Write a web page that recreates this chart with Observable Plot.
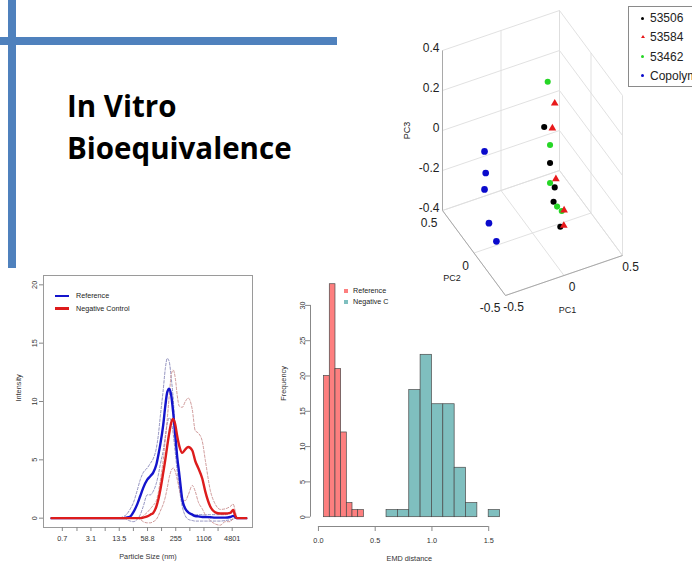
<!DOCTYPE html>
<html>
<head>
<meta charset="utf-8">
<script src="https://cdn.jsdelivr.net/npm/d3@7"></script>
<script src="https://cdn.jsdelivr.net/npm/@observablehq/plot@0.6"></script>
<style>
  html, body { margin:0; padding:0; background:#fff; }
  body { width:692px; height:565px; position:relative; overflow:hidden; font-family:"Liberation Sans", Arial, sans-serif; }
  .abs { position:absolute; }
  .bar { background:#4f81bd; }
  #title { left:67px; top:85px; font-family:"Open Sans", sans-serif; font-weight:700; font-size:29.5px; line-height:42px; color:#000; white-space:nowrap; }
  .row { position:absolute; left:0; white-space:nowrap; }
  .txt { position:absolute; color:#222; }
</style>
</head>
<body>
<div class="abs bar" style="left:8px;top:0;width:8px;height:268px"></div>
<div class="abs bar" style="left:0;top:37px;width:337px;height:8px"></div>
<div id="title" class="abs">In Vitro<br>Bioequivalence</div>
<div id="lineChart" class="abs" style="left:0;top:270px;width:260px;height:295px"></div>
<div id="lineLegend" class="abs" style="left:55px;top:291px;width:100px;height:26px"></div>
<div id="hist" class="abs" style="left:270px;top:270px;width:240px;height:295px"></div>
<div id="histLegend" class="abs" style="left:344px;top:286px;width:60px;height:24px"></div>
<div id="pca" class="abs" style="left:390px;top:0;width:302px;height:320px"></div>
<div id="pcaLegend" class="abs" style="left:628px;top:6px;width:80px;height:79px;border:1px solid #8a8a8a;background:#fff"></div>
<script>
// ================= DATA =================
// --- Particle size distribution (left bottom) ---
const sizes = [0.4, 11.6, 13.5, 15.8, 19.5, 24, 28, 34.5, 40.3, 47, 58, 68, 79, 93, 103, 114, 133, 148, 164, 182, 202, 224, 249, 276, 306, 358, 419, 489, 603, 703, 822, 1012, 1183, 1535, 1991, 2583, 3343, 4336, 5071, 5625, 6239, 7294, 9961];
const refMean  = [0, 0, 0, 0, 0.05, 0.15, 0.5, 1.2, 1.9, 2.6, 3.3, 3.6, 3.9, 4.6, 5.4, 6.3, 8.0, 9.6, 10.8, 11.1, 10.5, 9.0, 7.1, 5.2, 3.8, 1.6, 0.8, 0.5, 0.3, 0.18, 0.15, 0.1, 0.1, 0.08, 0.05, 0.05, 0.05, 0.1, 0.2, 0.1, 0, 0, 0];
const refUpper = [0, 0, 0, 0.1, 0.3, 0.8, 1.3, 2.4, 3.3, 3.9, 4.3, 4.7, 5.1, 6.0, 7.1, 8.7, 11.0, 12.8, 13.7, 13.4, 12.0, 10.2, 7.4, 5.2, 3.2, 1.8, 0.9, 0.5, 0.35, 0.3, 0.3, 0.3, 0.3, 0.3, 0.3, 0.3, 0.3, 0.4, 0.5, 0.2, 0, 0, 0];
const refLower = [0, 0, 0, 0, -0.1, -0.25, -0.3, -0.1, 0.3, 1.0, 2.0, 2.0, 2.3, 3.0, 3.7, 4.6, 5.8, 7.0, 8.1, 8.6, 8.3, 7.2, 5.6, 4.0, 2.6, 1.0, 0.2, -0.1, -0.2, -0.25, -0.25, -0.25, -0.25, -0.25, -0.25, -0.25, -0.2, -0.15, -0.1, 0, 0, 0, 0];
const negMean  = [0, 0, 0, 0, 0, 0, 0, 0, 0, 0.05, 0.15, 0.3, 0.45, 1.0, 1.6, 2.4, 3.9, 5.0, 6.2, 7.3, 8.2, 8.5, 8.0, 7.0, 6.2, 5.6, 5.9, 6.1, 5.8, 4.9, 4.3, 3.4, 2.3, 1.0, 0.5, 0.4, 0.4, 0.45, 0.7, 0.2, 0, 0, 0];
const negUpper = [0, 0, 0, 0, 0, 0, 0, 0, 0, 0.2, 0.5, 0.8, 1.1, 1.5, 2.2, 3.2, 5.0, 6.7, 8.5, 10.5, 12.3, 12.7, 12.0, 10.5, 9.6, 9.5, 10.0, 10.3, 9.3, 7.5, 7.3, 6.6, 5.0, 2.4, 1.2, 0.75, 0.8, 1.0, 1.2, 0.6, 0, 0, 0];
const negLower = [0, 0, 0, 0, 0, 0, 0, 0, -0.1, -0.3, -0.4, -0.4, -0.3, -0.1, 0.2, 0.6, 1.2, 1.8, 2.6, 3.5, 4.1, 4.3, 4.0, 3.3, 2.5, 1.5, 1.5, 2.0, 2.8, 2.3, 1.4, 0.8, 0.3, -0.2, -0.5, -0.6, -0.3, -0.3, 0, 0, 0, 0, 0];
const sizeTicks      = [0.7, 1.5, 3.1, 6.5, 13.5, 28.2, 58.8, 122, 255, 531, 1106, 2304, 4801];
const sizeTickLabels = ["0.7", "", "3.1", "", "13.5", "", "58.8", "", "255", "", "1106", "", "4801"];
const intensityTicks = [0, 5, 10, 15, 20];
const lineSeries = ["Reference", "Negative Control"];
const lineColors = ["#1414cc", "#dd1c1c"];

// --- EMD distance histogram (middle bottom) ---
const refBinStart = [0.05, 0.10, 0.15, 0.20, 0.25, 0.30, 0.35];
const refCounts   = [20, 33, 21, 12, 2, 1, 1];
const refBinWidth = 0.05;
const negBinStart = [0.6, 0.7, 0.8, 0.9, 1.0, 1.1, 1.2, 1.3, 1.4, 1.5];
const negCounts   = [1, 1, 18, 23, 16, 16, 7, 2, 0, 1];
const negBinWidth = 0.1;
const emdTicks  = [0, 0.5, 1.0, 1.5];
const freqTicks = [0, 5, 10, 15, 20, 25, 30];
const histSeries = ["Reference", "Negative C"];
const histColors = ["#fd7f7f", "#7fbfbf"];

// --- 3D PCA scatter (top right) ---
const pcaSeries = ["53506", "53584", "53462", "Copolymer"];
const pcaColors = ["#000000", "#e8191b", "#26d626", "#0a0acc"];
const pcaSymbols = ["circle", "triangle", "circle", "circle"];
const pc1_53506 = [0.10, 0.15, 0.19, 0.18, 0.13];
const pc2_53506 = [0, 0, 0, 0, -0.2];
const pc3_53506 = [0.11, -0.08, -0.21, -0.28, -0.31];
const pc1_53584 = [0.19, 0.17, 0.20, 0.27, 0.16];
const pc2_53584 = [0, 0, 0, 0, -0.2];
const pc3_53584 = [0.21, 0.09, -0.17, -0.34, -0.31];
const pc1_53462 = [0.13, 0.15, 0.15, 0.21, 0.25];
const pc2_53462 = [0, 0, 0, 0, 0];
const pc3_53462 = [0.33, 0.01, -0.18, -0.31, -0.34];
const pc1_copolymer = [-0.41, -0.40, -0.41, -0.48, -0.47];
const pc2_copolymer = [0, 0, 0, -0.2, -0.3];
const pc3_copolymer = [0.09, -0.02, -0.10, -0.17, -0.22];
const pc1Ticks = [-0.5, 0, 0.5];
const pc2Ticks = [-0.5, 0, 0.5];
const pc3Ticks = [-0.4, -0.2, 0, 0.2, 0.4];

// ================= LINE CHART =================
const rFont = {fontFamily: "'Liberation Sans', Arial, sans-serif", fontSize: "7.3px", background: "transparent", color: "#333", overflow: "visible"};
const toRows = (arr) => sizes.map((s, i) => ({size: s, v: arr[i]}));
const labeledTicks = sizeTicks.map((t, i) => ({t, label: sizeTickLabels[i]})).filter(d => d.label !== "");
const dashed = [
  {arr: refUpper, c: "#8585b8"}, {arr: refLower, c: "#8585b8"},
  {arr: negUpper, c: "#c98e8e"}, {arr: negLower, c: "#c98e8e"}
];
const lcH = 295, lcTop = 5, lcBottom = 38;
const lineChart = Plot.plot({
  width: 260, height: lcH,
  marginLeft: 43, marginRight: 8, marginTop: lcTop, marginBottom: lcBottom,
  x: {type: "log", domain: [0.263, 13800], axis: null},
  y: {domain: [-0.8, 20.8], axis: null},
  style: rFont,
  marks: [
    Plot.frame({stroke: "#9a9a9a"}),
    Plot.tickX(sizeTicks, {x: d => d, insetTop: lcH - lcTop - lcBottom, insetBottom: -4, stroke: "#888"}),
    Plot.text(labeledTicks, {x: "t", text: "label", frameAnchor: "bottom", dy: 13.5, fill: "#333"}),
    Plot.axisY({ticks: intensityTicks, tickSize: 4, tickRotate: -90, tickPadding: 2.5, stroke: "#888", fill: "#333", label: null}),
    ...dashed.map(d => Plot.line(toRows(d.arr), {x: "size", y: "v", stroke: d.c, strokeWidth: 0.9, strokeDasharray: "2.5,1.8", curve: "monotone-x"})),
    Plot.line(toRows(refMean), {x: "size", y: "v", stroke: lineColors[0], strokeWidth: 2.4, curve: "monotone-x"}),
    Plot.line(toRows(negMean), {x: "size", y: "v", stroke: lineColors[1], strokeWidth: 2.4, curve: "monotone-x"}),
    Plot.text(["Particle Size (nm)"], {frameAnchor: "bottom", dy: 31, fill: "#333"}),
    Plot.text(["Intensity"], {frameAnchor: "left", dx: -25, rotate: -90, fill: "#333"})
  ]
});
document.getElementById("lineChart").append(lineChart);

const ll = document.getElementById("lineLegend");
lineSeries.forEach((name, i) => {
  const row = document.createElement("div");
  row.className = "row";
  row.style.top = (i * 12.5) + "px";
  row.style.height = "10px";
  row.style.width = "100px";
  row.innerHTML = `<span style="position:absolute;left:0;top:3.8px;width:14px;height:2.5px;background:${lineColors[i]}"></span>` +
    `<span class="txt" style="left:21px;top:0;font-size:7.2px;line-height:10px">${name}</span>`;
  ll.append(row);
});

// ================= HISTOGRAM =================
const histRows = [
  ...refBinStart.map((x0, i) => ({x0, x1: x0 + refBinWidth, n: refCounts[i], g: 0})),
  ...negBinStart.map((x0, i) => ({x0, x1: x0 + negBinWidth, n: negCounts[i], g: 1}))
];
const hx = [-0.07, 1.67], hy = [-1.32, 34.32];
const hist = Plot.plot({
  width: 240, height: 295,
  marginLeft: 40, marginRight: 2.5, marginTop: 4.4, marginBottom: 39,
  x: {domain: hx}, y: {domain: hy},
  style: rFont,
  marks: [
    Plot.rect(histRows, {x1: "x0", x2: "x1", y1: 0, y2: "n", fill: d => histColors[d.g], stroke: "#4a4a4a", strokeWidth: 0.7}),
    Plot.ruleY([hy[0]], {x1: emdTicks[0], x2: emdTicks[emdTicks.length - 1], stroke: "#888"}),
    Plot.ruleX([hx[0]], {y1: freqTicks[0], y2: freqTicks[freqTicks.length - 1], stroke: "#888"}),
    Plot.axisX({ticks: emdTicks, tickFormat: d3.format(".1f"), tickSize: 5, tickPadding: 6, stroke: "#888", fill: "#333", label: null}),
    Plot.axisY({ticks: freqTicks, tickSize: 5, tickRotate: -90, tickPadding: 1, stroke: "#888", fill: "#333", label: null}),
    Plot.text(["EMD distance"], {frameAnchor: "bottom", dy: 34, fill: "#333"}),
    Plot.text(["Frequency"], {frameAnchor: "left", dx: -27, rotate: -90, fill: "#333"})
  ]
});
document.getElementById("hist").append(hist);

const hl = document.getElementById("histLegend");
histSeries.forEach((name, i) => {
  const row = document.createElement("div");
  row.className = "row";
  row.style.top = (i * 11.3) + "px";
  row.style.height = "10px";
  row.style.width = "60px";
  row.innerHTML = `<span style="position:absolute;left:0;top:3px;width:4px;height:4px;background:${histColors[i]}"></span>` +
    `<span class="txt" style="left:9px;top:0;font-size:7.2px;line-height:10px">${name}</span>`;
  hl.append(row);
});

// ================= 3D PCA =================
const min1 = d3.min(pc1Ticks), max1 = d3.max(pc1Ticks);
const min2 = d3.min(pc2Ticks), max2 = d3.max(pc2Ticks);
const min3 = d3.min(pc3Ticks), max3 = d3.max(pc3Ticks);
// oblique view: screen units per PC unit (x right, y up)
const ax1 = [117, 40], ax2 = [-63, 85], ax3 = [0, 200];
const PX = p => ax1[0] * (p[0] - min1) + ax2[0] * (p[1] - max2) + ax3[0] * (p[2] - min3);
const PY = p => ax1[1] * (p[0] - min1) + ax2[1] * (p[1] - max2) + ax3[1] * (p[2] - min3);
const pcaGroups = [
  [pc1_53506, pc2_53506, pc3_53506],
  [pc1_53584, pc2_53584, pc3_53584],
  [pc1_53462, pc2_53462, pc3_53462],
  [pc1_copolymer, pc2_copolymer, pc3_copolymer]
];
const pcaPoints = pcaGroups.flatMap((g, gi) => g[0].map((v, i) => ({p: [v, g[1][i], g[2][i]], g: gi})));
const gridSegs = [];
pc1Ticks.forEach(t => gridSegs.push([[t, max2, min3], [t, max2, max3]]));
pc3Ticks.forEach(t => gridSegs.push([[min1, max2, t], [max1, max2, t]]));
pc2Ticks.forEach(t => gridSegs.push([[max1, t, min3], [max1, t, max3]]));
pc3Ticks.forEach(t => gridSegs.push([[max1, min2, t], [max1, max2, t]]));
pc1Ticks.forEach(t => gridSegs.push([[t, min2, min3], [t, max2, min3]]));
pc2Ticks.forEach(t => gridSegs.push([[min1, t, min3], [max1, t, min3]]));
const axisSegs = [
  [[min1, max2, min3], [min1, max2, max3]],
  [[min1, max2, min3], [min1, min2, min3]],
  [[min1, min2, min3], [max1, min2, min3]]
];
const corners = [];
[min1, max1].forEach(a => [min2, max2].forEach(b => [min3, max3].forEach(c => corners.push([a, b, c]))));
const px = d3.extent(corners, PX), py = d3.extent(corners, PY);
const segOpts = {x1: s => PX(s[0]), y1: s => PY(s[0]), x2: s => PX(s[1]), y2: s => PY(s[1])};
const pca = Plot.plot({
  width: 302, height: 320,
  marginLeft: 52, marginRight: 70, marginTop: 10, marginBottom: 25,
  x: {domain: px, axis: null}, y: {domain: py, axis: null},
  style: {fontFamily: "'Liberation Sans', Arial, sans-serif", fontSize: "12px", background: "#fff", color: "#222", overflow: "visible"},
  marks: [
    Plot.link(gridSegs, {...segOpts, stroke: "#dedede", strokeWidth: 0.9}),
    Plot.link(axisSegs, {...segOpts, stroke: "#a9a9a9", strokeWidth: 1}),
    Plot.text(pc3Ticks, {x: () => PX([min1, max2, 0]), y: t => PY([min1, max2, t]), text: t => String(t), textAnchor: "end", dx: -3, dy: -2, fill: "#222"}),
    Plot.text(pc2Ticks, {x: t => PX([min1, t, min3]), y: t => PY([min1, t, min3]), text: t => String(t), textAnchor: "end", dx: -5, dy: 13, fill: "#222"}),
    Plot.text(pc1Ticks, {x: t => PX([t, min2, min3]), y: t => PY([t, min2, min3]), text: t => String(t), textAnchor: "middle", dx: 8, dy: 12, fill: "#222"}),
    Plot.text(["PC3"], {x: () => PX([min1, max2, min3]), y: () => PY([min1, max2, (min3 + max3) / 2]), dx: -35, rotate: -90, fontSize: 9, fill: "#222"}),
    Plot.text(["PC2"], {x: () => PX([min1, 0, min3]), y: () => PY([min1, 0, min3]), dx: -22, dy: 25, fontSize: 9, fill: "#222"}),
    Plot.text(["PC1"], {x: () => PX([0, min2, min3]), y: () => PY([0, min2, min3]), dx: 3.5, dy: 35, fontSize: 9, fill: "#222"}),
    Plot.dot(pcaPoints, {x: d => PX(d.p), y: d => PY(d.p), fill: d => pcaColors[d.g], symbol: d => pcaSymbols[d.g], r: d => d.g === 3 ? 3 : d.g === 1 ? 2.2 : 2.5, stroke: "none"})
  ]
});
document.getElementById("pca").append(pca);

const pl = document.getElementById("pcaLegend");
pcaSeries.forEach((name, i) => {
  const row = document.createElement("div");
  row.className = "row";
  row.style.top = (4 + i * 19.3) + "px";
  row.style.height = "14px";
  row.style.width = "90px";
  const mk = pcaSymbols[i] === "triangle"
    ? `<span style="position:absolute;left:11.5px;top:5px;width:0;height:0;border-left:2px solid transparent;border-right:2px solid transparent;border-bottom:3.5px solid ${pcaColors[i]}"></span>`
    : `<span style="position:absolute;left:12px;top:5.5px;width:3px;height:3px;border-radius:50%;background:${pcaColors[i]}"></span>`;
  row.innerHTML = mk + `<span class="txt" style="left:21px;top:0;font-size:12px;line-height:14px">${name}</span>`;
  pl.append(row);
});
</script>
</body>
</html>
